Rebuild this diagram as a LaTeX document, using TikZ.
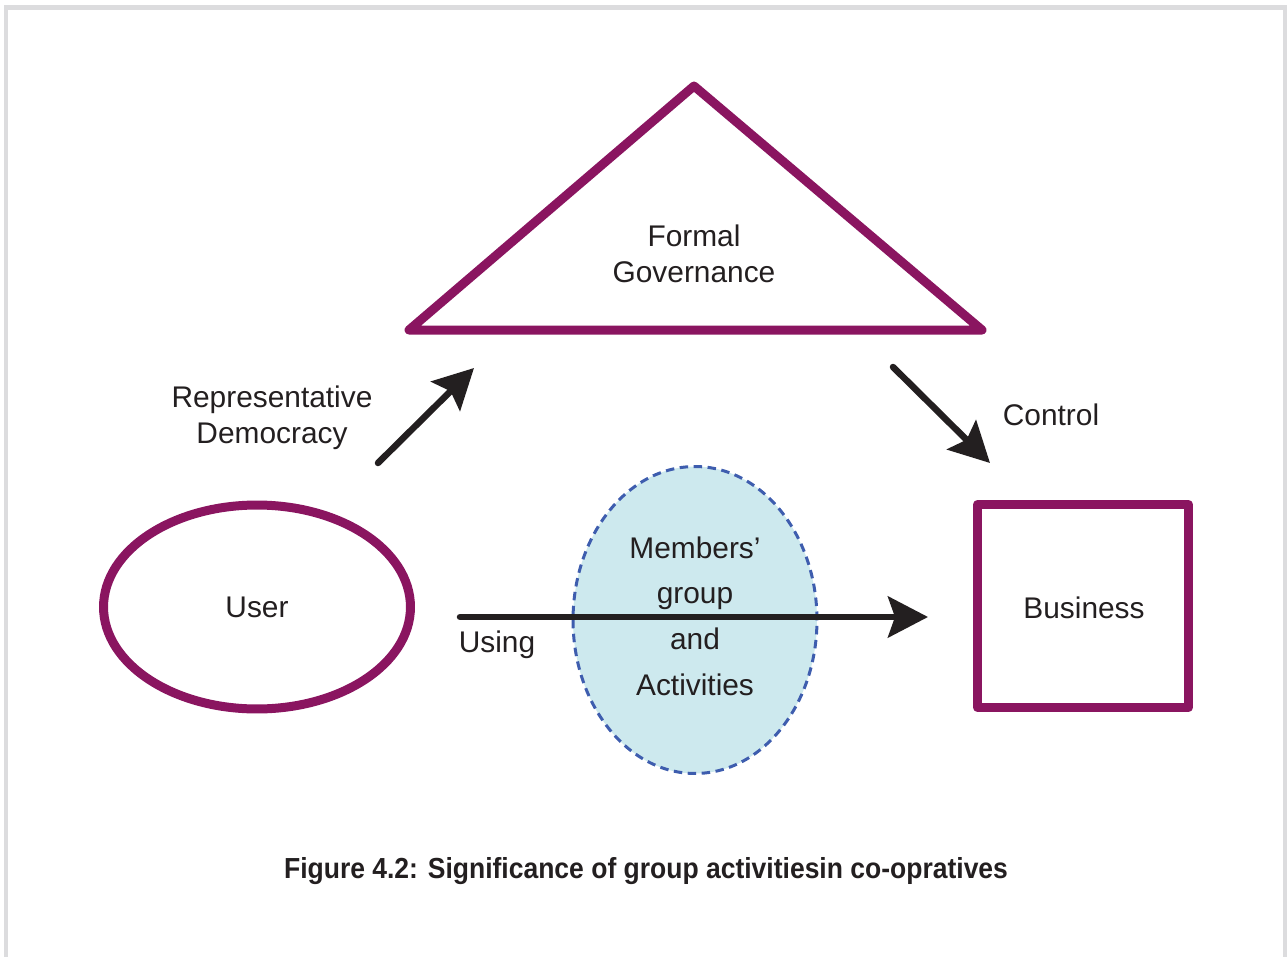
\documentclass[tikz,border=0pt]{standalone}
\usepackage{fontspec}
\setmainfont{Liberation Sans}
\usetikzlibrary{arrows.meta,shapes.geometric,positioning}
\definecolor{plum}{HTML}{8A1560}
\definecolor{paleblue}{HTML}{CDE9EE}
\definecolor{dashblue}{HTML}{3E5DAE}
\definecolor{framegray}{HTML}{DCDCDE}
\definecolor{inkgray}{HTML}{231F20}
\tikzset{
    plumline/.style={draw=plum, line width=0.18cm, line join=round},
    bigarrow/.style={inkgray, line width=0.13cm, line cap=round,
        -{Stealth[length=0.8cm, width=0.82cm, inset=0.14cm]}},
    txt/.style={text=inkgray, font=\fontsize{17}{20.5}\selectfont, align=center, inner sep=0pt},
}
\begin{document}
\begin{tikzpicture}[x=0.02cm, y=-0.02cm]
\useasboundingbox (0,0) rectangle (1287,956);
\draw[framegray, line width=0.1cm] (6,960)--(6,7.5)--(1285.5,7.5)--(1285.5,960);
\coordinate (apex) at (694,86);
\coordinate (baseL) at (409,330);
\coordinate (baseR) at (982,330);
\draw[plumline] (apex)--(baseR)--(baseL)--cycle;
\node[txt] (gov) at (694,254) {Formal\\Governance};
\node[ellipse, plumline, inner sep=0pt, minimum width=6.14cm, minimum height=4.08cm, txt] (user) at (257,607) {User};
\node[rectangle, plumline, inner sep=0pt, minimum width=4.22cm, minimum height=4.06cm] (business) at (1083,606) {};
\node[txt] (bustext) at (1084,608) {Business};
\node[ellipse, draw=dashblue, fill=paleblue, dash pattern=on 0.17cm off 0.11cm, line width=0.06cm, inner sep=0pt,
    minimum width=4.88cm, minimum height=6.14cm] (members) at (695,620) {};
\node[txt, font=\fontsize{17}{26}\selectfont] (memtext) at (695,616) {Members’\\group\\and\\Activities};
\coordinate (repStart) at (378,463);
\coordinate (repEnd) at (474,368);
\coordinate (ctlStart) at (893,367);
\coordinate (ctlEnd) at (990,463);
\coordinate (useStart) at (460,617);
\coordinate (useEnd) at (928,617);
\draw[bigarrow] (repStart)--(repEnd);
\draw[bigarrow] (ctlStart)--(ctlEnd);
\draw[bigarrow] (useStart)--(useEnd);
\node[txt] (repdem) at (272,418) {Representative\\Democracy};
\node[txt] (control) at (1051,415) {Control};
\node[txt] (using) at (497,645) {Using};
\node[text=inkgray, inner sep=0pt] (caption) at (646,871)
    {\resizebox{14.48cm}{\height}{\fontsize{16.5}{18}\selectfont\bfseries Figure 4.2: Significance of group activitiesin co-opratives}};
\end{tikzpicture}
\end{document}
